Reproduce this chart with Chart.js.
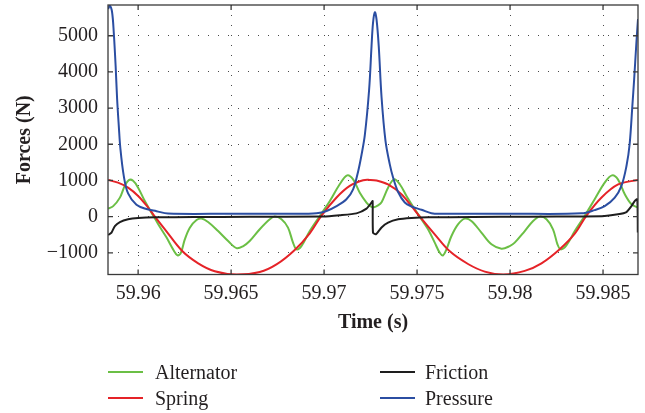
<!DOCTYPE html>
<html lang="en">
<head>
    <meta charset="UTF-8">
    <title>Forces vs Time</title>
    <script src="https://cdn.jsdelivr.net/npm/chart.js"></script>
    <style>
        body {
            margin: 0;
            background: #fff;
            font-family: 'Liberation Serif', 'DejaVu Serif', serif;
            color: #231f20;
        }
        .wrap {
            position: relative;
            width: 645px;
            height: 413px;
        }
        .legend {
            position: absolute;
            font-size: 20px;
            line-height: 24px;
            white-space: nowrap;
        }
        .legend span.swatch {
            position: absolute;
            top: 11px;
            width: 35px;
            height: 2px;
        }
        .legend span.label {
            position: absolute;
            top: 0;
        }
    </style>
</head>
<body>
<div class="wrap">
    <canvas id="forceChart" width="645" height="413"></canvas>
    <div class="legend" style="left:108px;top:360px;"><span class="swatch" style="background:#6bbf45;left:0"></span><span class="label" style="left:47px">Alternator</span></div>
    <div class="legend" style="left:108px;top:386px;"><span class="swatch" style="background:#e52328;left:0"></span><span class="label" style="left:47px">Spring</span></div>
    <div class="legend" style="left:380px;top:360px;"><span class="swatch" style="background:#1e1e1e;left:0"></span><span class="label" style="left:45px">Friction</span></div>
    <div class="legend" style="left:380px;top:386px;"><span class="swatch" style="background:#2b4ea2;left:0"></span><span class="label" style="left:45px">Pressure</span></div>
</div>
<script>
    // tick values
    const xTicks = [59.96, 59.965, 59.97, 59.975, 59.98, 59.985];
    const yTicks = [-1000, 0, 1000, 2000, 3000, 4000, 5000];

    // Alternator force (N)
    const alternatorTime = [59.95839, 59.95866, 59.95902, 59.95928, 59.95950, 59.95973, 59.96000, 59.96036, 59.96072, 59.96108,
        59.96153, 59.96188, 59.96212, 59.96230, 59.96251, 59.96278, 59.96314, 59.96341, 59.96376, 59.96430,
        59.96484, 59.96529, 59.96564, 59.96600, 59.96654, 59.96708, 59.96735, 59.96771, 59.96806, 59.96833,
        59.96852, 59.96878, 59.96923, 59.96977, 59.97031, 59.97084, 59.97124, 59.97156, 59.97192, 59.97228,
        59.97250, 59.97268, 59.97290, 59.97309, 59.97344, 59.97376, 59.97407, 59.97443, 59.97488, 59.97524,
        59.97559, 59.97595, 59.97622, 59.97640, 59.97658, 59.97685, 59.97720, 59.97756, 59.97792, 59.97846,
        59.97900, 59.97954, 59.97998, 59.98025, 59.98079, 59.98124, 59.98160, 59.98196, 59.98231, 59.98255,
        59.98272, 59.98303, 59.98348, 59.98401, 59.98455, 59.98509, 59.98548, 59.98580, 59.98617, 59.98653, 59.98688];
    const alternatorForce = [220, 290, 525, 850, 1010, 990, 800, 430, 110, -210,
        -580, -905, -1070, -1000, -630, -305, -95, -55, -150, -400,
        -675, -870, -820, -675, -350, -75, 0, -75, -305, -720,
        -905, -815, -400, 17, 430, 895, 1140, 1030, 660, 390,
        285, 260, 310, 400, 800, 1030, 895, 570, 200, -75,
        -350, -720, -1000, -1070, -905, -535, -215, -55, -120, -440,
        -765, -885, -815, -720, -400, -120, 0, -75, -350, -765,
        -905, -795, -400, 17, 480, 940, 1140, 1030, 617, 340, 250];

    // Spring force (N)
    const springTime = [59.95839, 59.95892, 59.95946, 59.96000, 59.96054, 59.96086, 59.96144, 59.96237, 59.96323, 59.96412,
        59.96529, 59.96654, 59.96744, 59.96842, 59.96923, 59.96986, 59.97067, 59.97138, 59.97210, 59.97245,
        59.97282, 59.97344, 59.97416, 59.97470, 59.97515, 59.97595, 59.97676, 59.97774, 59.97864, 59.97963,
        59.98079, 59.98169, 59.98267, 59.98348, 59.98411, 59.98492, 59.98581, 59.98688];
    const springForce = [1010, 940, 800, 570, 250, 30, -350, -950, -1290, -1510,
        -1600, -1530, -1320, -920, -460, 30, 530, 850, 1005, 1015,
        1000, 890, 620, 290, 0, -490, -960, -1310, -1520, -1600,
        -1500, -1290, -900, -470, 30, 530, 890, 1015];

    // Friction force (N)
    const frictionTime = [59.95839, 59.95857, 59.95875, 59.95902, 59.95946, 59.96000, 59.96090, 59.96300, 59.96600, 59.96995,
        59.97084, 59.97174, 59.97228, 59.97255, 59.97261, 59.97263, 59.97278, 59.97309, 59.97344, 59.97398,
        59.97470, 59.97559, 59.97801, 59.98100, 59.98400, 59.98509, 59.98580, 59.98626, 59.98653, 59.98670,
        59.98684, 59.98687];
    const frictionForce = [-510, -440, -260, -150, -75, -40, -20, -12, -5, 0,
        36, 90, 220, 390, 430, -440, -490, -300, -166, -75,
        -39, -20, -10, -4, 5, 17, 64, 127, 293, 430,
        480, -440];

    // Pressure force (N)
    const pressureTime = [59.95839, 59.95848, 59.95860, 59.95869, 59.95879, 59.95887, 59.95896, 59.95905, 59.95923, 59.95946,
        59.95991, 59.96045, 59.96099, 59.96161, 59.96500, 59.96900, 59.96959, 59.97013, 59.97067, 59.97120,
        59.97156, 59.97183, 59.97201, 59.97219, 59.97242, 59.97255, 59.97263, 59.97273, 59.97282, 59.97294,
        59.97309, 59.97330, 59.97353, 59.97371, 59.97398, 59.97434, 59.97470, 59.97524, 59.97577, 59.97631,
        59.98000, 59.98384, 59.98455, 59.98509, 59.98563, 59.98599, 59.98626, 59.98643, 59.98658, 59.98667,
        59.98679, 59.98688];
    const pressureForce = [5740, 5830, 5650, 5090, 4170, 3250, 2510, 1860, 1120, 640,
        330, 210, 150, 85, 80, 80, 90, 155, 290, 480,
        755, 1250, 1700, 2250, 3500, 4700, 5350, 5650, 5450, 4700,
        3300, 2100, 1450, 1080, 680, 390, 280, 190, 95, 80,
        80, 90, 180, 290, 525, 850, 1400, 2000, 3090, 3770,
        4780, 5460];

    function pts(t, f) {
        return t.map((v, i) => ({x: v, y: f[i]}));
    }

    const ink = '#231f20';

    // frame box and inward tick marks
    const framePlugin = {
        id: 'frame',
        afterDraw(chart) {
            const {ctx, chartArea: a, scales} = chart;
            ctx.save();
            ctx.strokeStyle = '#3a3a3a';
            ctx.lineWidth = 1.3;
            ctx.beginPath();
            xTicks.forEach(v => {
                const px = scales.x.getPixelForValue(v);
                ctx.moveTo(px, a.bottom); ctx.lineTo(px, a.bottom - 5);
                ctx.moveTo(px, a.top); ctx.lineTo(px, a.top + 5);
            });
            yTicks.forEach(v => {
                const py = scales.y.getPixelForValue(v);
                ctx.moveTo(a.left, py); ctx.lineTo(a.left + 5, py);
                ctx.moveTo(a.right, py); ctx.lineTo(a.right - 5, py);
            });
            ctx.stroke();
            ctx.strokeRect(a.left, a.top, a.right - a.left, a.bottom - a.top);
            ctx.restore();
        }
    };

    const lineStyle = {
        borderWidth: 2,
        pointRadius: 0,
        fill: false,
        tension: 0.35
    };

    new Chart(document.getElementById('forceChart'), {
        type: 'line',
        data: {
            datasets: [
                Object.assign({label: 'Pressure', data: pts(pressureTime, pressureForce), borderColor: '#2b4ea2'}, lineStyle),
                Object.assign({label: 'Friction', data: pts(frictionTime, frictionForce), borderColor: '#1e1e1e'}, lineStyle, {tension: 0.2}),
                Object.assign({label: 'Spring', data: pts(springTime, springForce), borderColor: '#e52328'}, lineStyle),
                Object.assign({label: 'Alternator', data: pts(alternatorTime, alternatorForce), borderColor: '#6bbf45'}, lineStyle)
            ]
        },
        options: {
            responsive: false,
            animation: false,
            layout: {padding: {top: 5, right: 7, left: 0, bottom: 0}},
            plugins: {
                legend: {display: false},
                tooltip: {enabled: false}
            },
            scales: {
                x: {
                    type: 'linear',
                    min: 59.95838,
                    max: 59.98688,
                    afterBuildTicks: s => { s.ticks = xTicks.map(v => ({value: v})); },
                    afterFit: s => { s.height = 138.5; s.paddingLeft = 0; s.paddingRight = 0; },
                    ticks: {
                        autoSkip: false,
                        maxRotation: 0,
                        padding: 7,
                        color: ink,
                        font: {family: 'Liberation Serif', size: 20},
                        callback: v => String(Number(v.toFixed(3)))
                    },
                    grid: {color: '#4a4a4a', lineWidth: 1, drawTicks: false},
                    border: {display: false, dash: [1, 9]},
                    title: {
                        display: true,
                        text: 'Time (s)',
                        color: ink,
                        font: {family: 'Liberation Serif', size: 20, weight: 'bold'},
                        padding: {top: 0, bottom: 78}
                    }
                },
                y: {
                    min: -1600,
                    max: 5850,
                    afterBuildTicks: s => { s.ticks = yTicks.map(v => ({value: v})); },
                    afterFit: s => { s.width = 108; s.paddingTop = 0; s.paddingBottom = 0; },
                    ticks: {
                        padding: 10,
                        color: ink,
                        font: {family: 'Liberation Serif', size: 20},
                        callback: v => v < 0 ? '\u2212' + Math.abs(v) : String(v)
                    },
                    grid: {color: '#4a4a4a', lineWidth: 1, drawTicks: false},
                    border: {display: false, dash: [1, 9]},
                    title: {
                        display: true,
                        text: 'Forces (N)',
                        color: ink,
                        font: {family: 'Liberation Serif', size: 20, weight: 'bold'},
                        padding: {top: 13, bottom: 0}
                    }
                }
            }
        },
        plugins: [framePlugin]
    });
</script>
</body>
</html>
